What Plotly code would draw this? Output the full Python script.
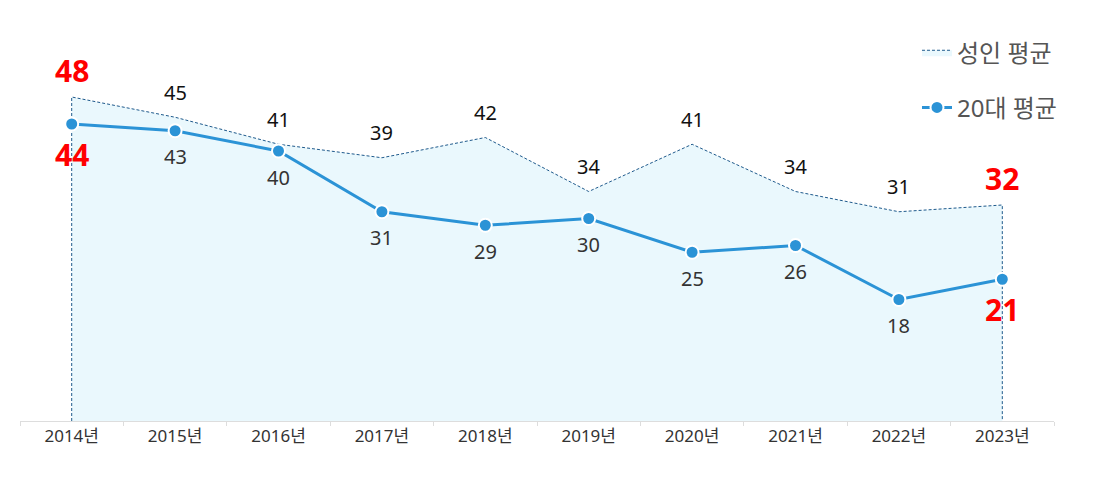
import plotly.graph_objects as go

years = ["2014년", "2015년", "2016년", "2017년", "2018년", "2019년", "2020년", "2021년", "2022년", "2023년"]
adult_avg = [48, 45, 41, 39, 42, 34, 41, 34, 31, 32]
twenties_avg = [44, 43, 40, 31, 29, 30, 25, 26, 18, 21]

FONT = "Noto Sans, Noto Sans CJK KR, sans-serif"
LINE_BLUE = "#2b93d6"
AREA_EDGE = "#1f5a8c"
AREA_FILL = "#eaf8fd"

fig = go.Figure()

# Area with dashed outline including vertical edges at both ends
ax = [years[0]] + years + [years[-1]]
ay = [0] + adult_avg + [0]
fig.add_trace(go.Scatter(
    x=ax, y=ay, mode="lines", name="성인 평균",
    line=dict(color=AREA_EDGE, width=1, dash="3px,2px"),
    fill="tozeroy", fillcolor=AREA_FILL,
    legendgroup="a", hoverinfo="skip",
))

fig.add_trace(go.Scatter(
    x=years, y=twenties_avg, mode="lines+markers", name="20대 평균",
    line=dict(color=LINE_BLUE, width=3),
    marker=dict(size=13, color=LINE_BLUE, line=dict(color="white", width=2)),
    legendgroup="b",
))

n = len(years)
for i, (yr, a, t) in enumerate(zip(years, adult_avg, twenties_avg)):
    edge = i == 0 or i == n - 1
    style_a = dict(size=30, color="#ff0000", family=FONT, weight="bold") if edge else dict(size=20, color="#111111", family=FONT)
    style_t = dict(size=30, color="#ff0000", family=FONT, weight="bold") if edge else dict(size=20, color="#333333", family=FONT)
    fig.add_annotation(x=yr, y=a, text=str(a), showarrow=False, yanchor="middle",
                       yshift=27 if edge else 25, font=style_a)
    fig.add_annotation(x=yr, y=t, text=str(t), showarrow=False, yanchor="middle",
                       yshift=-30 if edge else -26, font=style_t)

fig.update_layout(
    width=1101, height=479,
    margin=dict(l=12, r=55, t=8, b=66, autoexpand=False),
    paper_bgcolor="white", plot_bgcolor="white",
    font=dict(family=FONT),
    showlegend=True,
    legend=dict(
        x=0.8675, y=0.965, xanchor="left", yanchor="top",
        font=dict(size=24, color="#555555", family=FONT),
        tracegroupgap=21, bgcolor="rgba(0,0,0,0)",
    ),
    xaxis=dict(
        type="category", categoryorder="array", categoryarray=years,
        range=[-0.5, len(years) - 0.5],
        showgrid=False, showline=True, linecolor="#dddddd", linewidth=1,
        ticks="outside", tickson="boundaries", ticklen=4, tickcolor="#dddddd",
        tickfont=dict(size=17, color="#333333", family=FONT),
        zeroline=False,
    ),
    yaxis=dict(range=[0, 60], visible=False, showgrid=False, zeroline=False),
)

fig.write_html("out.html")
